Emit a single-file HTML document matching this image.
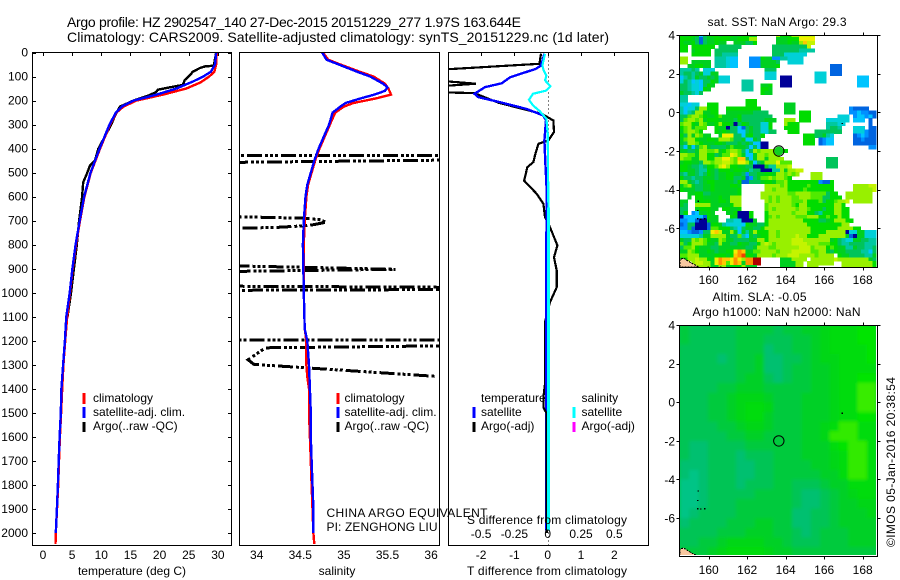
<!DOCTYPE html>
<html lang="en">
<head>
<meta charset="utf-8">
<title>Argo profile 2902547_140</title>
<style>
html,body{margin:0;padding:0;background:#fff;width:900px;height:580px;overflow:hidden}
svg{display:block}
text{font-family:"Liberation Sans",sans-serif;font-size:12px;fill:#000}
.t{font-size:14px}
</style>
</head>
<body>
<svg id="chart" xmlns="http://www.w3.org/2000/svg" width="900" height="580" viewBox="0 0 900 580">
<defs>
<clipPath id="clip1"><rect x="32.5" y="52.5" width="199" height="493"/></clipPath>
<clipPath id="clip2"><rect x="239.5" y="52.5" width="200" height="493"/></clipPath>
<clipPath id="clip3"><rect x="448.5" y="52.5" width="200" height="493"/></clipPath>
<clipPath id="clipM1"><rect x="679.5" y="35" width="197" height="232"/></clipPath>
<clipPath id="clipM2"><rect x="679.5" y="325" width="196.5" height="230"/></clipPath>
<filter id="soft" x="-5%" y="-5%" width="110%" height="110%"><feGaussianBlur stdDeviation="1.6"/></filter>
</defs>
<text class="t" x="67" y="27" textLength="454">Argo profile: HZ 2902547_140 27-Dec-2015 20151229_277 1.97S 163.644E</text>
<text class="t" x="67" y="42" textLength="542">Climatology: CARS2009. Satellite-adjusted climatology: synTS_20151229.nc (1d later)</text>
<g id="layer"></g>
<text x="132" y="575" text-anchor="middle">temperature (deg C)</text>
<text x="337" y="575" text-anchor="middle">salinity</text>
<text x="467" y="575" textLength="160">T difference from climatology</text>
<text x="467" y="524" textLength="160">S difference from climatology</text>
<text x="326.5" y="517" textLength="161">CHINA ARGO EQUIVALENT</text>
<text x="326.5" y="531" textLength="111">PI: ZENGHONG LIU</text>
<text x="93" y="402">climatology</text>
<text x="93" y="416">satellite-adj. clim.</text>
<text x="93" y="430">Argo(..raw -QC)</text>
<text x="344.5" y="402">climatology</text>
<text x="344.5" y="416">satellite-adj. clim.</text>
<text x="344.5" y="430">Argo(..raw -QC)</text>
<text x="481" y="402">temperature</text>
<text x="481" y="416">satellite</text>
<text x="481" y="430">Argo(-adj)</text>
<text x="581.5" y="402">salinity</text>
<text x="581.5" y="416">satellite</text>
<text x="581.5" y="430">Argo(-adj)</text>
<text x="707.5" y="26" textLength="139">sat. SST: NaN Argo: 29.3</text>
<text x="712.5" y="301" textLength="94">Altim. SLA: -0.05</text>
<text x="692.5" y="316" textLength="168">Argo h1000: NaN h2000: NaN</text>
<text transform="translate(895,547) rotate(-90)" textLength="170">©IMOS 05-Jan-2016 20:38:54</text>
</svg>
<script>
// ---- profile data ----
const tempClimDepth = [0,50,80,100,125,150,175,200,225,250,300,400,500,600,700,800,900,1000,1100,1200,1300,1400,1500,1600,1700,1800,1900,2000,2045];
const tempClim = [29.8,29.7,29.4,28.5,27,24.6,20.6,16,13.8,12.6,11.5,9.8,8.2,7.1,6.35,5.66,5.1,4.63,4.15,3.8,3.5,3.3,3.1,2.9,2.75,2.6,2.4,2.2,2.15];
const tempSatDepth = [0,50,80,100,120,150,175,200,225,250,300,400,500,600,700,800,900,1000,1100,1200,1300,1400,1500,1600,1700,1800,1900,2000];
const tempSat = [29.7,29.5,28.8,27.5,25.8,22.9,19.5,15.5,13.5,12.5,11.4,9.7,8.15,7.05,6.3,5.6,5.05,4.58,4,3.75,3.45,3.15,3.05,2.85,2.7,2.55,2.38,2.2];
const tempArgoDepth = [0,55,58,65,80,95,115,135,145,155,165,180,200,225,260,300,350,400,450,470,500,540,600,700,800,900,1000,1100];
const tempArgo = [29.7,29.3,27.8,26.9,25.7,25.2,24.3,24,21.8,19.7,19.4,18,15.5,13.2,12.4,11.7,10.6,9.5,8.9,8.06,7.6,6.9,6.7,6.2,5.8,5.3,4.8,4.2];

const salClimDepth = [0,30,50,80,100,130,150,175,190,210,225,250,300,350,400,450,500,550,600,700,800,1000,1150,1200,1300,1350,1400,1500,1600,1700,1800,1900,2000,2045];
const salClim = [34.76,34.82,34.96,35.18,35.34,35.47,35.51,35.54,35.38,35.11,35,34.9,34.84,34.78,34.72,34.67,34.63,34.59,34.57,34.55,34.54,34.54,34.55,34.57,34.57,34.58,34.6,34.6,34.61,34.62,34.63,34.64,34.65,34.66];
const salSatDepth = [0,30,50,80,100,130,145,160,175,190,210,225,250,300,350,400,450,500,550,600,700,800,1000,1150,1200,1300,1400,1500,1600,1700,1800,1900,2000];
const salSat = [34.75,34.8,34.94,35.15,35.3,35.45,35.5,35.47,35.35,35.2,35.02,34.96,34.87,34.83,34.77,34.71,34.66,34.62,34.58,34.56,34.54,34.53,34.54,34.55,34.58,34.6,34.61,34.62,34.62,34.63,34.64,34.65,34.65];
const salArgoDepth = [428,428,446,458,681,690,696,706,720,728,734,886,902,912,972,978,986,990,1196,1196,1219,1229,1279,1298,1306,1348];
const salArgo = [33.5,36.6,36.6,33.5,33.5,34.55,34.72,34.8,34.6,34.23,33.5,33.5,35.59,33.5,33.5,36.6,36.6,33.5,33.5,36.6,36.6,34.1,33.9,33.97,34.3,36.06];

const diffTempSatDepth = [5,54,68,103,128,144,172,186,207,235,262,283,366,463,574,1074,1990];
const diffTempSat = [-0.1,-0.2,-0.35,-1.13,-1.38,-1.88,-2.2,-2.08,-1.43,-0.63,-0.13,-0.05,-0.1,-0.07,-0.03,-0.05,-0.05];
const diffTempArgoDepth = [5,47,78,109,130,148,165,169,209,255,283,331,366,380,428,456,477,533,588,630,685,727,803,852,907,977,1039,1074,1122,1378,1435,1477];
const diffTempArgo = [-0.2,-0.25,-4,-4,-2.16,-4,-3.5,-2.2,-1.48,-0.18,0.17,0.19,0.02,-0.28,-0.38,-0.43,-0.61,-0.71,-0.33,-0.13,-0.08,0.07,0.29,0.19,0.27,0.27,0.07,0,-0.08,-0.08,-0.13,-0.13];
const diffTempArgoDeepDepth = [1477,1500,1875,1970,2000];
const diffTempArgoDeep = [-0.13,-0.04,-0.04,-0.02,-0.03];
const diffSalSatDepth = [5,54,75,96,116,140,158,172,197,220,244,276,338,644];
const diffSalSat = [-0.02,-0.04,-0.03,-0.01,-0.02,0.02,-0.01,-0.11,-0.14,-0.11,-0.06,-0.01,0,0.005];
const diffSalSatDeepDepth = [644,1990];
const diffSalSatDeep = [0.005,0.005];

// ---- tick labels ----
const depthTicks = [0,100,200,300,400,500,600,700,800,900,1000,1100,1200,1300,1400,1500,1600,1700,1800,1900,2000];
const tempTicks = [0,5,10,15,20,25,30];
const salTicks = [34,34.5,35,35.5,36];
const diffTempTicks = [-2,-1,0,1,2];
const diffSalTicks = [-0.5,-0.25,0,0.25,0.5];
const lonTicks = [160,162,164,166,168];
const latTicks = [4,2,0,-2,-4,-6];

// ---- satellite SST grid, one letter per 0.2 degree cell (a=coldest ... q=warmest, .=no data) ----
const sstRows = [
"ihiihdghii hiiihhiihh .....kiiik kllll..... ...........",
"iiihgbghhi iiihhiiikk .....hhhii immmm..... ...........",
"ihhigbghhi hh..hhhggi .....hhhih hknll..... ...........",
"ii.iiiiii. gggggg.... ....gggggg gggl...... ...........",
"ii.hiiii.g ggggg..... ....gggggg gffff..... ...........",
"...iiiii.g gffff..... ....gggeee eee....... ...........",
"kk.......f ffedd...cc cihhccffee ee........ ...........",
"kk.hhhhh.f ffedd...cc chhhhg..ee ee........ ...........",
"..hhiihh.f ffedd...cc chhhhi.... .........b bb.........",
"fffgf.eee. .......... ..ggg..... .........b bb.........",
"fggfgheehh .......... ..eee..... .....eee.b bb.........",
"dfgfhgghgh eee....... ..eee.aaa. .....eee.. ......ddd..",
"egfdedggih eee...fff. ......aaa. .....eee.. ......ddd..",
"ggfeedgih. ......fff. .hhi..aaa. .......... ......ddd..",
"ggfeedih.. ......fff. .iih...... .......... ...........",
"hggfeg.... .......... .ihh...... .......... ...........",
"ff........ .......... .......... .......... ...........",
"ff........ .......iii .......... .......... ...........",
"eedee..iii .......iii .......hhh .......... ...........",
"fdeegkkiii ..iiiiiiii i......hhh .......... ....cbbbb..",
"fdfgkkhhii ..hhhhhhhg ggg....hhh .iii...... ....ccdccbb",
"ggjkkjihhi jhhhhigggg gggg...... .iii...... .eee.cddcdb",
"gjkkjkhiii hhhhgigggg gghhh..kkk .iii....ee eeee.ddd.b.",
"jkkihkjhhi kiihagihgg geei...kii i.......ff fee......b.",
"ijkhjjj..i hhaggdbghg geei...iii i.......fg gf...eee.bb",
"hjkkji...i hihggddghg geegg...ii i....ggggg gg...eeecbb",
"igkhkjhh.. hmmmggdhig gi........ ..iiigghfe .....bcdcbb",
"hjkkihhiih kkkjgghddh g......... ..iii.bcdd .....bbcbbb",
"hgkkjihhhi ihggghghgd daa....... ..iii.bcdd .....bbbbbb",
"gdhdgjkhgg gghjhhhgdg daa....... .......... .........cc",
"hhgghkkjjk hijkkjgdgk jkkkkiii.. .......... ...........",
"kkjjhkkiig hjjmljhddh kkjkkk.... .......... ...........",
"kjjhhkkiik kmmkjnngdh kkhkkkk... ........gg g..........",
"hiihhgkkjk kllkjmmkhd ghkkkmjjj. ........gg g..........",
"iihggfgiij lmkiihhgga aahffkkkl. ........gg g..........",
"iihhgffihg iiihiihhfg gaaaffkhkk ll........ ...........",
"gfhhgfgihg hhiihhgcgg hhiihkkjkj k...kkk... ...........",
"iggfgghhhg hhiigghbcg hjjkjkkji. ....kkk... ...........",
"kkhgfghiih hhhhgibbgg ghiihjjkii iiiiiicbbi ...........",
"hjkhgghhih hhhiih.... ..kkkkjkii iiijiiiiii .....kkkkll",
"ihhhgghhih hhhhhi.... ..kkjkkkii iijiiiiiii .....kkkkkl",
"..hhiigghh hhhhhi.... .kkkkkkkjj kkkkjjjjgi i..kkkkkkk.",
"..h.iihhhh ihhkkk.... .kkjkjkkkj jkkkjjjggi ii.kkkkkkk.",
"hh..hiiihh iihkkk.... ..kjkjkkkj jjkiiijgii jkkl.kkkkk.",
"hg..kkkkhh hhhikk.... ..jkkkkkkj ikkiiiiiii kki........",
"gg..hiiihh .iihhi.... ..jkjkkkkk jkkjiiigii kkii.......",
"gi.cdhhih. ..hhiaaai. ..ikkkkkkj kkkiigfiii kkii.......",
"adddddbihh ...ihaaai. ..ijkjkkkk jjjkkkiiji ikii.......",
"ccddbaahhh ..ffeeaaah ..ikkkkkkk kkiiiigghi kkkii......",
"bcggaaabii hfeeeedihh ggikkkkkkk kkkiiiiiii iikk.......",
"ccgbaaabjj iiigfdghhg gikkkkkkkk kkkkiiiiii ikkkkii....",
"ddcbbcggmn lhhkhdhfhk iiikkjkkkk kkkkiiiikk kkkaeehheee",
"eeeeefhhkk kkhggjfdhg hiikkjkkkk lkkiiikkkk kkkhbahheee",
"hggkjkjihh kjhhgggghh kkikkkkkkl llkkkkkkkh igfeehhggff",
"jgikkkjhhg khhggihhgg iklkjkkkkl lllkkkjjji igffggggfff",
"gjjkihhhgg hhhhhhhggh kkkjjkkkkk kllljkkkij ihhffhggffg",
"hhkjihhihg hhiimonhhj jkkkkjkkkl lllljjkkhg ihhggggffdg",
"jjkkkhhhhi iihinopiih kkkkjkkkll lkkkkjkkkk .ihhggggffh",
"hikklkkihm onnmomkooq q.....hhhk kkk.kkkkkk lkkkkkkkkhg",
"...kllkkhm onjmonhooq q.....hhhh kk.kkkkkkk ..kkkkkkkki",
"...kkkkkhh kkhiiikhhh ......hhhh kk.kkk.... ..kkkkkkkki"
];
const sstColors = ["#000098","#0064e0","#0090ff","#00c4ff","#00d0d8","#00c8a0","#00c45a","#00d020","#00dc00","#50ea00","#98f000","#c4f400","#f0f000","#ffc800","#ff9000","#f04000","#b00000"];

// ---- altimetry SLA grid, one digit per cell (0=lowest ... 9=highest) ----
const slaRows = [
"322222333323344566677",
"322222333222334566677",
"222222333122334566667",
"222212334112234556667",
"222222334112334456666",
"222222344212334456677",
"222233444333334456699",
"222334555433344456699",
"222334566533344456699",
"222334566433344456677",
"222233455433344568866",
"222223344333344588866",
"211222233333344467886",
"211222122233344456886",
"111222112233334456886",
"101222112233333446886",
"001222122233222344666",
"001222223333211234566",
"001222333333211234455",
"012222333333112234445",
"122223334433112234444",
"222233344433212333444",
"223345555443222333444",
"333456666544333333333"
];
const slaColors = ["#00c486","#00c070","#00c455","#00ca3c","#00d028","#00d618","#00dc0c","#00e400","#30ea00","#38ec00"];

// ---- map overlays ----
const floatLon = [163.644];
const floatLat = [-2];
const landLon = [158.5,158.5,158.7,159.1,159.5];
const landLat = [-8,-7.6,-7.55,-7.8,-8];
const speckLon = [159.43,159.38,159.4,159.55,159.75,166.9,160.6,159.95];
const speckLat = [-4.57,-5.05,-5.48,-5.5,-5.48,-0.54,-7.97,-7.97];

// ---- axis functions ----
const yD = d => 52.5 + 0.2403 * d;
const xT = v => 43 + 5.83 * v;
const xS = v => 256.7 + 87.2 * (v - 34);
const xDT = v => 547.7 + 33.3 * v;
const xDS = v => 547.7 + 133.3 * v;
const mapX = lon => 708.7 + (lon - 160) * 19.25;
const map1Y = lat => 35 + (4 - lat) * 19.33;
const map2Y = lat => 325 + (4 - lat) * 19.31;

const NS = "http://www.w3.org/2000/svg";
const layer = document.getElementById("layer");
function mk(parent, tag, attrs) {
  const el = document.createElementNS(NS, tag);
  for (const k in attrs) el.setAttribute(k, attrs[k]);
  parent.appendChild(el);
  return el;
}
function pts(xs, ys, fx, fy) {
  return xs.map((v, i) => fx(v).toFixed(1) + "," + fy(ys[i]).toFixed(1)).join(" ");
}
function frame(parent, name, x, y, w, h) {
  const el = mk(parent, "rect", {x: x, y: y, width: w, height: h, fill: "none", stroke: "#000", "stroke-width": 1, "shape-rendering": "crispEdges"});
  
  
}
function tick(parent, x1, y1, x2, y2) {
  const el = mk(parent, "line", {x1: x1, y1: y1, x2: x2, y2: y2, stroke: "#000", "stroke-width": 1, "shape-rendering": "crispEdges"});
  
  
}
function tickLabel(parent, str, x, y, anchor) {
  const el = mk(parent, "text", {x: x, y: y, "text-anchor": anchor});
  el.textContent = str;
  
  
}
function series(parent, name, xs, ys, fx, color, width, dash) {
  const el = mk(parent, "polyline", {points: pts(xs, ys, fx, yD), fill: "none", stroke: color, "stroke-width": width, "stroke-linejoin": "miter", "shape-rendering": "crispEdges"});
  if (dash) el.setAttribute("stroke-dasharray", dash);
  
  
}
function legendBar(x, y1, y2, color, name) {
  const el = mk(layer, "rect", {x: x - 1.5, y: y1, width: 3, height: y2 - y1, fill: color, "shape-rendering": "crispEdges"});
  
  
}

// ---- temperature panel ----
const g1 = mk(layer, "g", {"clip-path": "url(#clip1)"});


series(g1, 'temperature-argo-line', tempArgo, tempArgoDepth, xT, "#000", 2.4);
series(g1, 'temperature-climatology-line', tempClim, tempClimDepth, xT, "#f00", 2.4);
series(g1, 'temperature-satellite-line', tempSat, tempSatDepth, xT, "#00f", 2.4);
frame(layer, 'temperature-panel-frame', 32.5, 52.5, 199, 493);
depthTicks.forEach(d => {
  tick(layer, 32.5, Math.round(yD(d)) + .5, 36, Math.round(yD(d)) + .5);
  tick(layer, 228, Math.round(yD(d)) + .5, 231.5, Math.round(yD(d)) + .5);
  tickLabel(layer, String(d), 28, yD(d) + 4, "end");
});
tempTicks.forEach(v => {
  tick(layer, Math.round(xT(v)) + .5, 52.5, Math.round(xT(v)) + .5, 56);
  tickLabel(layer, String(v), xT(v), 559, "middle");
});

// ---- salinity panel ----
const g2 = mk(layer, "g", {"clip-path": "url(#clip2)"});


series(g2, 'salinity-argo-line', salArgo, salArgoDepth, xS, "#000", 3, "15 3 3 2 3 2 3 3");
series(g2, 'salinity-climatology-line', salClim, salClimDepth, xS, "#f00", 2.4);
series(g2, 'salinity-satellite-line', salSat, salSatDepth, xS, "#00f", 2.4);
frame(layer, 'salinity-panel-frame', 239.5, 52.5, 200, 493);
salTicks.forEach(v => {
  tickLabel(layer, String(v), xS(v), 559, "middle");
});

// ---- difference panel ----
const g3 = mk(layer, "g", {"clip-path": "url(#clip3)"});


const zeroLine = mk(g3, "line", {x1: xDT(0) + 1, y1: 52.5, x2: xDT(0) + 1, y2: 545.5, stroke: "#000", "stroke-width": 1, "stroke-dasharray": "1 3", "shape-rendering": "crispEdges"});


series(g3, 'temperature-difference-argo-line', diffTempArgo, diffTempArgoDepth, xDT, "#000", 2.2);
series(g3, 'temperature-difference-satellite-line', diffTempSat, diffTempSatDepth, xDT, "#00f", 2.4);
series(g3, 'temperature-difference-argo-deep-line', diffTempArgoDeep, diffTempArgoDeepDepth, xDT, "#000", 2.2);
series(g3, 'salinity-difference-satellite-line', diffSalSat, diffSalSatDepth, xDS, "#00ffff", 2.2);
series(g3, 'salinity-difference-satellite-deep-line', diffSalSatDeep, diffSalSatDeepDepth, xDS, "#00ffff", 3);
frame(layer, 'difference-panel-frame', 448.5, 52.5, 200, 493);
diffTempTicks.forEach(v => {
  tick(layer, Math.round(xDT(v)) + .5, 52.5, Math.round(xDT(v)) + .5, 56);
  tickLabel(layer, String(v), xDT(v), 559, "middle");
});
diffSalTicks.forEach(v => {
  tickLabel(layer, String(v), xDS(v), 538, "middle");
});

// ---- legends ----
legendBar(84, 393, 404, "#f00", 'legend-climatology-swatch-temperature');
legendBar(84, 407, 418, "#00f", 'legend-satellite-swatch-temperature');
legendBar(84, 422, 432, "#000", 'legend-argo-swatch-temperature');
legendBar(338, 393, 404, "#f00", 'legend-climatology-swatch-salinity');
legendBar(338, 407, 418, "#00f", 'legend-satellite-swatch-salinity');
legendBar(338, 422, 432, "#000", 'legend-argo-swatch-salinity');
legendBar(474, 407, 418, "#00f", 'legend-temperature-satellite-swatch');
legendBar(474, 422, 432, "#000", 'legend-temperature-argo-swatch');
legendBar(574, 407, 418, "#00ffff", 'legend-salinity-satellite-swatch');
legendBar(574, 422, 432, "#ff00ff", 'legend-salinity-argo-swatch');

// ---- SST map ----
const m1 = mk(layer, "g", {"clip-path": "url(#clipM1)"});


sstRows.forEach((row, r) => {
  const cells = row.replace(/ /g, "");
  for (let c = 0; c < cells.length; c++) {
    const level = cells.charCodeAt(c) - 97;
    if (level < 0) continue;
    const lon = 158.5 + c * 0.2;
    const lat = 4 - (r - 0.5) * 0.2;
    const cell = mk(m1, "rect", {x: mapX(lon).toFixed(2), y: map1Y(lat).toFixed(2), width: (0.2 * 19.25 + .3).toFixed(2), height: (0.2 * 19.33 + .3).toFixed(2), fill: sstColors[level], "shape-rendering": "crispEdges"});
    
    
  }
});

// ---- SLA map ----
const m2 = mk(layer, "g", {"clip-path": "url(#clipM2)"});


const slaBg = mk(m2, "rect", {x: 670, y: 315, width: 220, height: 250, fill: "#00c848"});


const m2soft = mk(m2, "g", {filter: "url(#soft)"});


const slaCols = slaRows[0].length;
const slaLonStep = 10.2 / slaCols;
const slaLatStep = 12 / slaRows.length;
slaRows.forEach((row, r) => {
  for (let c = 0; c < row.length; c++) {
    const lon = 158.5 + c * slaLonStep;
    const lat = 4 - r * slaLatStep;
    const cell = mk(m2soft, "rect", {x: mapX(lon).toFixed(2), y: map2Y(lat).toFixed(2), width: (slaLonStep * 19.25 + .5).toFixed(2), height: (slaLatStep * 19.31 + .5).toFixed(2), fill: slaColors[+row[c]]});
    
    
  }
});

// ---- map overlays and axes ----
[[m1, map1Y, 'sst'], [m2, map2Y, 'sla']].forEach(cfg => {
  const g = cfg[0], fy = cfg[1];
  if (cfg[2] === 'sst') {
    const land = mk(g, "polygon", {points: pts(landLon, landLat, mapX, fy), fill: "#f8c8a0", stroke: "#000", "stroke-width": 1, "stroke-dasharray": "2 1", "shape-rendering": "crispEdges"});
    
    
  } else {
    const land = mk(g, "polygon", {points: pts(landLon, landLat, mapX, fy), fill: "#f8c8a0", stroke: "#000", "stroke-width": 1, "stroke-dasharray": "2 1", "shape-rendering": "crispEdges"});
    
    
  }
  speckLon.forEach((lon, i) => {
    const s = mk(g, "rect", {x: mapX(lon).toFixed(1), y: fy(speckLat[i]).toFixed(1), width: 1.5, height: 1.2, fill: "#000", "shape-rendering": "crispEdges"});
    
    
  });
});
const floatFill = mk(layer, "circle", {cx: mapX(floatLon[0]).toFixed(1), cy: map1Y(floatLat[0]).toFixed(1), r: 4.5, fill: "#10d020"});


const floatRing1 = mk(layer, "circle", {cx: mapX(floatLon[0]).toFixed(1), cy: map1Y(floatLat[0]).toFixed(1), r: 5.2, fill: "none", stroke: "#000", "stroke-width": 1});


const floatRing2 = mk(layer, "circle", {cx: mapX(floatLon[0]).toFixed(1), cy: map2Y(floatLat[0]).toFixed(1), r: 5.2, fill: "none", stroke: "#000", "stroke-width": 1});



frame(layer, 'sst-map-frame', 679.5, 35.5, 198, 232);
frame(layer, 'sla-map-frame', 679.5, 325.5, 198, 231);
[[35.5, 267.5, map1Y, 284], [325.5, 556.5, map2Y, 574]].forEach(cfg => {
  const top = cfg[0], bot = cfg[1], fy = cfg[2], base = cfg[3];
  lonTicks.forEach(v => {
    const x = Math.round(mapX(v)) + .5;
    tick(layer, x, top - 3, x, top);
    tick(layer, x, bot, x, bot + 3);
    tickLabel(layer, String(v), mapX(v), base, "middle");
  });
  latTicks.forEach(v => {
    const y = Math.round(fy(v)) + .5;
    tick(layer, 676.5, y, 679.5, y);
    tick(layer, 877.5, y, 880.5, y);
    tickLabel(layer, String(v), 675, fy(v) + 4.5, "end");
  });
});
</script>
</body>
</html>
